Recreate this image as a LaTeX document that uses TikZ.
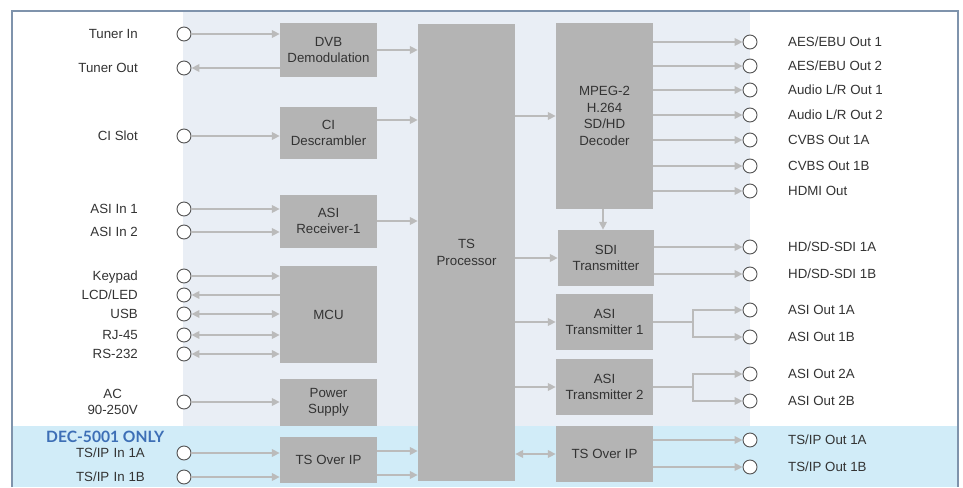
\documentclass[tikz,border=0pt]{standalone}
\usepackage{fontspec}
\setmainfont{Liberation Sans}
\newfontfamily\decfont{Lato}
\usetikzlibrary{arrows.meta}
\definecolor{bgpanel}{HTML}{E9EEF5}
\definecolor{band}{HTML}{D1ECF8}
\definecolor{framec}{HTML}{7F93AC}
\definecolor{boxgrey}{HTML}{B4B4B4}
\definecolor{wire}{HTML}{BBBBBB}
\definecolor{txt}{HTML}{333333}
\definecolor{dec}{HTML}{3D6FB6}
\begin{document}
\begin{tikzpicture}[x=1pt,y=-1pt,
  blk/.style={fill=boxgrey, draw=none, text=txt, align=center, inner sep=0pt, minimum width=97pt, font=\fontsize{13.3}{16.5}\selectfont},
  port/.style={circle, draw=black!68, fill=white, line width=0.9pt, minimum size=14pt, inner sep=0pt},
  lbl/.style={text=txt, inner sep=0pt, font=\fontsize{13.3}{16}\selectfont, text height=9.6pt, text depth=0pt},
  wireline/.style={draw=wire, line width=2.3pt},
  arr/.style={wireline, -{Triangle[length=8pt,width=7.5pt]}},
  darr/.style={wireline, {Triangle[length=8pt,width=7.5pt]}-{Triangle[length=8pt,width=7.5pt]}},
]
\useasboundingbox (0,0) rectangle (963,487);
% backgrounds
\fill[white] (0,0) rectangle (963,487);
\fill[bgpanel] (183,11) rectangle (750,426);
\fill[band] (12,426) rectangle (958,487);
\draw[framec, line width=2pt] (12,487) -- (12,11) -- (958,11) -- (958,487);

% blocks
\node[blk, minimum height=53pt] (dvb) at (328.5,50) {DVB\\Demodulation};
\node[blk, minimum height=52pt] (ci) at (328.5,133) {CI\\Descrambler};
\node[blk, minimum height=53pt] (asirx) at (328.5,221) {ASI\\Receiver-1};
\node[blk, minimum height=97pt] (mcu) at (328.5,314.5) {MCU};
\node[blk, minimum height=47pt] (pwr) at (328.5,402.5) {Power\\Supply};
\node[blk, minimum height=46pt] (tsipL) at (328.5,460) {TS Over IP};
\node[blk, minimum height=457pt] (tsp) at (466.5,252.5) {TS\\Processor};
\node[blk, minimum height=185pt] (mpeg) at (604.5,116) {MPEG-2\\H.264\\SD/HD\\Decoder};
\node[blk, minimum height=56pt, minimum width=96pt] (sdi) at (606,258) {SDI\\Transmitter};
\node[blk, minimum height=56pt] (asitx1) at (604.5,322) {ASI\\Transmitter 1};
\node[blk, minimum height=56pt] (asitx2) at (604.5,387) {ASI\\Transmitter 2};
\node[blk, minimum height=56pt] (tsipR) at (604.5,454) {TS Over IP};

% left ports
\foreach \n/\y in {TunerIn/34,TunerOut/68,CI/136,ASI1/209,ASI2/232,Key/276,LCD/295,USB/314,RJ/335,RS/354,AC/402,IP1A/453,IP1B/477}
  \node[port] (p\n) at (184,\y) {};
% right ports
\foreach \n/\y in {AES1/42,AES2/66,Aud1/90,Aud2/115,CV1A/140,CV1B/166,HDMI/191,SDI1A/247,SDI1B/274,AO1A/310,AO1B/337,AO2A/374,AO2B/401,IPO1A/440,IPO1B/467}
  \node[port] (p\n) at (750,\y) {};

% left labels
\node[lbl, anchor=east] (lTunerIn) at (138,34) {Tuner In};
\node[lbl, anchor=east] (lTunerOut) at (138,68) {Tuner Out};
\node[lbl, anchor=east] (lCI) at (138,136) {CI Slot};
\node[lbl, anchor=east] (lASI1) at (138,209) {ASI In 1};
\node[lbl, anchor=east] (lASI2) at (138,232) {ASI In 2};
\node[lbl, anchor=east] (lKey) at (138,276) {Keypad};
\node[lbl, anchor=east] (lLCD) at (138,295) {LCD/LED};
\node[lbl, anchor=east] (lUSB) at (138,314) {USB};
\node[lbl, anchor=east] (lRJ) at (138,335) {RJ-45};
\node[lbl, anchor=east] (lRS) at (138,354) {RS-232};
\node[text=txt, inner sep=0pt, font=\fontsize{13.3}{16.5}\selectfont, align=center, anchor=east] (lAC) at (138,402) {AC\\90-250V};
\node[lbl, anchor=east] (lIP1A) at (145,453) {TS/IP\,\,In 1A};
\node[lbl, anchor=east] (lIP1B) at (145,477) {TS/IP\,\,In 1B};
\node[text=dec, inner sep=0pt, anchor=west, font=\decfont\bfseries\fontsize{15.6}{18}\selectfont] (ldec) at (46,437) {DEC-5001 ONLY};

% right labels
\node[lbl, anchor=west] (lAES1) at (788,42) {AES/EBU Out 1};
\node[lbl, anchor=west] (lAES2) at (788,66) {AES/EBU Out 2};
\node[lbl, anchor=west] (lAud1) at (788,90) {Audio L/R Out 1};
\node[lbl, anchor=west] (lAud2) at (788,115) {Audio L/R Out 2};
\node[lbl, anchor=west] (lCV1A) at (788,140) {CVBS Out 1A};
\node[lbl, anchor=west] (lCV1B) at (788,166) {CVBS Out 1B};
\node[lbl, anchor=west] (lHDMI) at (788,191) {HDMI Out};
\node[lbl, anchor=west] (lSDI1A) at (788,247) {HD/SD-SDI 1A};
\node[lbl, anchor=west] (lSDI1B) at (788,274) {HD/SD-SDI 1B};
\node[lbl, anchor=west] (lAO1A) at (788,310) {ASI Out 1A};
\node[lbl, anchor=west] (lAO1B) at (788,337) {ASI Out 1B};
\node[lbl, anchor=west] (lAO2A) at (788,374) {ASI Out 2A};
\node[lbl, anchor=west] (lAO2B) at (788,401) {ASI Out 2B};
\node[lbl, anchor=west] (lIPO1A) at (788,440) {TS/IP Out 1A};
\node[lbl, anchor=west] (lIPO1B) at (788,467) {TS/IP Out 1B};

% left connectors
\draw[arr] (pTunerIn.east) -- (dvb.west |- pTunerIn);
\draw[arr] (dvb.west |- pTunerOut) -- (pTunerOut.east);
\draw[arr] (pCI.east) -- (ci.west |- pCI);
\draw[arr] (pASI1.east) -- (asirx.west |- pASI1);
\draw[arr] (pASI2.east) -- (asirx.west |- pASI2);
\draw[arr] (pKey.east) -- (mcu.west |- pKey);
\draw[arr] (mcu.west |- pLCD) -- (pLCD.east);
\draw[darr] (pUSB.east) -- (mcu.west |- pUSB);
\draw[darr] (pRJ.east) -- (mcu.west |- pRJ);
\draw[darr] (pRS.east) -- (mcu.west |- pRS);
\draw[arr] (pAC.east) -- (pwr.west |- pAC);
\draw[arr] (pIP1A.east) -- (tsipL.west |- pIP1A);
\draw[arr] (pIP1B.east) -- (tsipL.west |- pIP1B);

% into TS processor
\draw[arr] (dvb.east) -- (dvb.east -| tsp.west);
\draw[arr] ([yshift=13pt]ci.east) -- ([yshift=13pt]ci.east -| tsp.west);
\draw[arr] (asirx.east) -- (asirx.east -| tsp.west);
\draw[arr] ([yshift=9pt]tsipL.east) -- ([yshift=9pt]tsipL.east -| tsp.west);
\draw[arr] ([yshift=-15pt]tsipL.east) -- ([yshift=-15pt]tsipL.east -| tsp.west);

% out of TS processor
\draw[arr] (tsp.east |- mpeg.west) -- (mpeg.west);
\draw[arr] (tsp.east |- sdi.west) -- (sdi.west);
\draw[arr] (tsp.east |- asitx1.west) -- (asitx1.west);
\draw[arr] (tsp.east |- asitx2.west) -- (asitx2.west);
\draw[darr] (tsp.east |- tsipR.west) -- (tsipR.west);
\draw[arr] ([xshift=-1.5pt]mpeg.south) -- ([xshift=-1.5pt]mpeg.south |- sdi.north);

% decoder outputs
\foreach \n in {AES1,AES2,Aud1,Aud2,CV1A,CV1B,HDMI}
  \draw[arr] (mpeg.east |- p\n) -- (p\n.west);
\foreach \n in {SDI1A,SDI1B}
  \draw[arr] (sdi.east |- p\n) -- (p\n.west);
\foreach \n in {AO1A,AO1B}
  \draw[arr] (asitx1.east) -- ++(40,0) |- (p\n.west);
\foreach \n in {AO2A,AO2B}
  \draw[arr] (asitx2.east) -- ++(40,0) |- (p\n.west);
\foreach \n in {IPO1A,IPO1B}
  \draw[arr] (tsipR.east |- p\n) -- (p\n.west);
\end{tikzpicture}
\end{document}
